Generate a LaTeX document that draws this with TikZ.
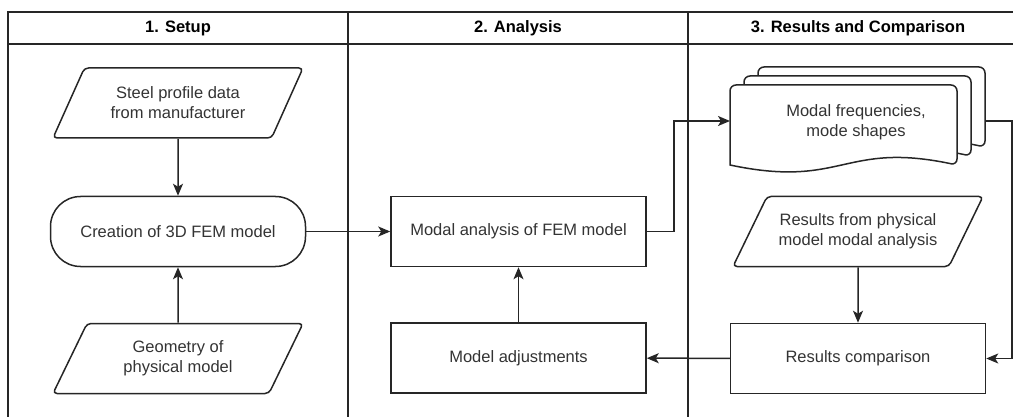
\documentclass[tikz,border=0pt]{standalone}
\usepackage{fontspec}
\setmainfont{Liberation Sans}
\usetikzlibrary{shapes.geometric, arrows.meta}

\begin{document}
\begin{tikzpicture}[x=1pt, y=-1pt, line width=1.5pt, color=black!85,
    every node/.style={font=\fontsize{16.5}{20}\selectfont, text=black!80, align=center},
    lanehead/.style={font=\fontsize{16.5}{20}\selectfont\bfseries, text=black},
    process/.style={draw, minimum width=255pt, minimum height=70pt},
    terminal/.style={process, rounded corners=30pt},
    data/.style={draw, trapezium, trapezium left angle=51, trapezium right angle=129,
      trapezium stretches body, minimum width=250pt, minimum height=70pt, rounded corners=4pt},
    flow/.style={-{Stealth[length=12pt, width=10pt, inset=3pt]}}]
  \useasboundingbox (0,0) rectangle (1013,417);

  % swimlanes
  \draw (8,12) rectangle (1028,440);
  \draw (8,44) -- (1028,44);
  \draw (348,12) -- (348,440);
  \draw (688,12) -- (688,440);
  \node[lanehead] (setup) at (178,28) {1. Setup};
  \node[lanehead] (analysis) at (518,28) {2. Analysis};
  \node[lanehead] (results) at (858,28) {3. Results and Comparison};

  % setup
  \node[data] (steel) at (178,103) {Steel profile data\\from manufacturer};
  \node[terminal] (create) at (178,231.5) {Creation of 3D FEM model};
  \node[data] (geom) at (178,358.5) {Geometry of\\physical model};

  % analysis
  \node[process] (modal) at (518.5,231.5) {Modal analysis of FEM model};
  \node[process] (adj) at (518.5,358) {Model adjustments};

  % results
  \foreach \d in {2,1,0} {
    \filldraw[fill=white] (730+14*\d,165-9*\d) [rounded corners=6pt] -- (730+14*\d,85-9*\d)
      -- (957+14*\d,85-9*\d) -- (957+14*\d,165-9*\d) [sharp corners]
      .. controls (843+14*\d,141-9*\d) and (843+14*\d,189-9*\d) .. (730+14*\d,165-9*\d) -- cycle;
  }
  \node (freq) at (856,122) {Modal frequencies,\\mode shapes};
  \coordinate (freqin) at (730,121);
  \coordinate (freqout) at (985,121);
  \node[data] (phys) at (858,231.5) {Results from physical\\model modal analysis};
  \node[process] (comp) at (858,358.5) {Results comparison};

  \draw[flow] (steel) -- (create);
  \draw[flow] (geom) -- (create);
  \draw[flow] (create) -- (modal);
  \draw[flow] (modal.east) -- ++(27,0) |- (freqin);
  \draw[flow] (freqout) -- ++(27,0) |- (comp.east);
  \draw[flow] (phys) -- (comp);
  \draw[flow] (comp) -- (adj);
  \draw[flow] (adj) -- (modal);
\end{tikzpicture}
\end{document}
